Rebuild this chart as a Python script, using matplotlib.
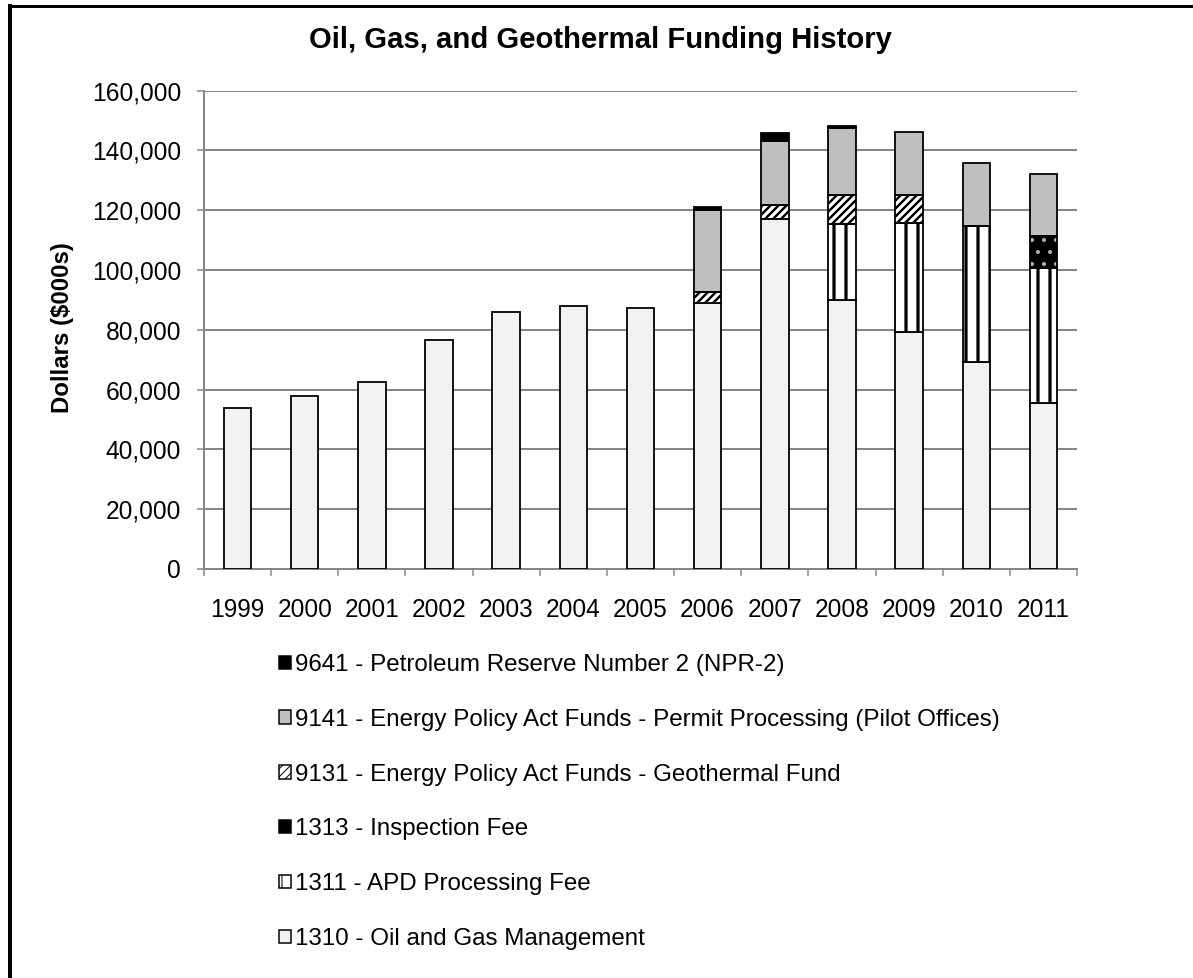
import numpy as np
import matplotlib
matplotlib.use('Agg')
import matplotlib.pyplot as plt
from matplotlib.patches import Patch
from matplotlib.lines import Line2D

# funding data, $000s
years = ['1999', '2000', '2001', '2002', '2003', '2004', '2005',
         '2006', '2007', '2008', '2009', '2010', '2011']
oil_gas_mgmt = [53900, 57700, 62600, 76600, 86100, 88100, 87400,
                88900, 116900, 89900, 79400, 69200, 55600]          # 1310
apd_fee = [0, 0, 0, 0, 0, 0, 0, 0, 0, 25600, 36200, 45600, 45200]   # 1311
inspection_fee = [0, 0, 0, 0, 0, 0, 0, 0, 0, 0, 0, 0, 10500]        # 1313
geothermal = [0, 0, 0, 0, 0, 0, 0, 3600, 4700, 9500, 9600, 0, 0]    # 9131
permit_proc = [0, 0, 0, 0, 0, 0, 0, 27600, 21400, 22300, 20800, 21000, 20900]  # 9141
npr2 = [0, 0, 0, 0, 0, 0, 0, 800, 2700, 800, 0, 0, 0]               # 9641

labels = ['1310 - Oil and Gas Management',
          '1311 - APD Processing Fee',
          '1313 - Inspection Fee',
          '9131 - Energy Policy Act Funds - Geothermal Fund',
          '9141 - Energy Policy Act Funds - Permit Processing (Pilot Offices)',
          '9641 - Petroleum Reserve Number 2 (NPR-2)']

plt.rcParams['font.family'] = ['Liberation Sans', 'DejaVu Sans']

# 72 dpi so hatch spacing is ~12 px like the original
fig = plt.figure(figsize=(1193 / 72, 978 / 72), dpi=72)
ax = fig.add_axes([204 / 1193, 1 - 569 / 978, (1077 - 204) / 1193, (569 - 90.5) / 978])

x = np.arange(len(years))
w = 0.41
grid_col = '#868686'
fs = 24.5

# style per series: face, hatch, hatch colour, hatch line width
styles = [
    ('#f2f2f2', None, 'black', 1),
    ('white', '|', 'black', 3.2),
    ('black', '.', '#b0b0b0', 1.6),
    ('white', '///', 'black', 2.4),
    ('#bfbfbf', None, 'black', 1),
    ('black', None, 'black', 1),
]
series = [oil_gas_mgmt, apd_fee, inspection_fee, geothermal, permit_proc, npr2]

bottom = np.zeros(len(years))
for vals, (fc, hatch, hc, hlw) in zip(series, styles):
    vals = np.array(vals, dtype=float)
    m = vals > 0
    if hatch:
        # hatch layer (hatch takes the edge colour), then a black outline
        with plt.rc_context({'hatch.linewidth': hlw}):
            bars = ax.bar(x[m], vals[m], w, bottom=bottom[m], color=fc, edgecolor=hc,
                          hatch=hatch, linewidth=0, zorder=3)
        for b in bars:
            if hasattr(b, 'set_hatch_linewidth'):
                b.set_hatch_linewidth(hlw)
        ax.bar(x[m], vals[m], w, bottom=bottom[m], fill=False, edgecolor='black',
               linewidth=1.8, zorder=4)
    else:
        ax.bar(x[m], vals[m], w, bottom=bottom[m], color=fc, edgecolor='black',
               linewidth=1.8, zorder=3)
    bottom += vals

# axes
ax.set_xlim(-0.5, len(years) - 0.5)
ax.set_ylim(0, 160000)
ax.set_yticks(np.arange(0, 160001, 20000))
ax.yaxis.set_major_formatter(matplotlib.ticker.StrMethodFormatter('{x:,.0f}'))
ax.yaxis.grid(True, color=grid_col, linewidth=2, zorder=0)
ax.set_axisbelow(True)

ax.set_xticks(np.arange(-0.5, len(years)), labels=[''] * (len(years) + 1))
ax.set_xticks(x, labels=years, minor=True)
ax.tick_params(axis='x', which='major', length=7, width=1.5, color=grid_col, direction='out')
ax.tick_params(axis='x', which='minor', length=0, pad=29, labelsize=fs)
ax.tick_params(axis='y', length=7, width=1.5, color=grid_col, pad=16, labelsize=fs)

for s in ['top', 'right']:
    ax.spines[s].set_visible(False)
for s in ['left', 'bottom']:
    ax.spines[s].set_color(grid_col)
    ax.spines[s].set_linewidth(2)

fig.text(600 / 1193, 1 - 40 / 978, 'Oil, Gas, and Geothermal Funding History',
         ha='center', va='center', fontsize=29.3, fontweight='bold')
fig.text(62 / 1193, 1 - 328 / 978, 'Dollars ($000s)', rotation=90,
         ha='center', va='center', fontsize=24, fontweight='bold')

# legend, reversed order, single column under the plot
handles = []
for (fc, hatch, hc, hlw), lab in zip(styles, labels):
    if hatch:
        handles.append(Patch(facecolor=fc, edgecolor='black', hatch=hatch, linewidth=1.5, label=lab))
    else:
        handles.append(Patch(facecolor=fc, edgecolor='black', linewidth=1.5, label=lab))
leg = fig.legend(handles[::-1], labels[::-1], loc='upper left',
                 bbox_to_anchor=(279 / 1193, 1 - 654 / 978), frameon=False,
                 fontsize=24.1, handlelength=0.48, handleheight=0.48,
                 handletextpad=0.2, labelspacing=1.36, borderpad=0, borderaxespad=0)

# frame lines on the top and left edges
fig.add_artist(Line2D([10 / 1193, 1], [1 - 6 / 978, 1 - 6 / 978], color='black',
                      linewidth=3, transform=fig.transFigure))
fig.add_artist(Line2D([10 / 1193, 10 / 1193], [0, 1 - 6 / 978], color='black',
                      linewidth=4, transform=fig.transFigure))

fig.savefig('out.png', dpi=72)
